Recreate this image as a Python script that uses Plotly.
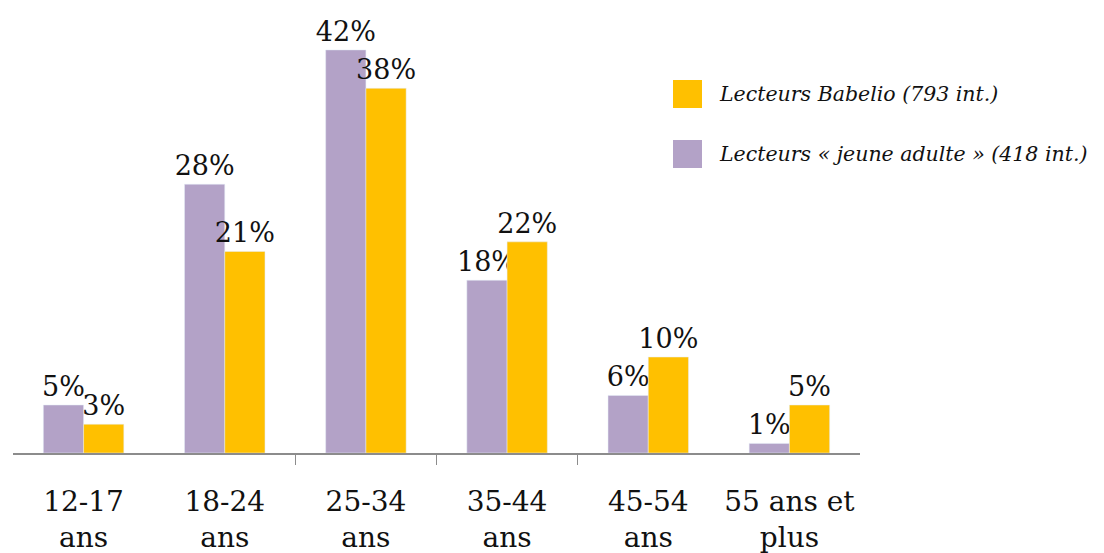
import plotly.graph_objects as go

categories = ["12-17<br>ans", "18-24<br>ans", "25-34<br>ans", "35-44<br>ans", "45-54<br>ans", "55 ans et<br>plus"]
jeune_adulte = [5, 28, 42, 18, 6, 1]
babelio = [3, 21, 38, 22, 10, 5]
name_ja = "Lecteurs « jeune adulte » (418 int.)"
name_bab = "Lecteurs Babelio (793 int.)"

PURPLE = "#B3A2C7"
YELLOW = "#FFC000"
FONT = "DejaVu Serif"

W, H = 1104, 553
L, R, T, B = 13, 244, 0, 100
pw, ph = W - L - R, H - T - B

xs = list(range(len(categories)))

fig = go.Figure()
fig.add_trace(go.Bar(
    x=xs, y=jeune_adulte, name=name_ja, marker_color=PURPLE,
    text=[f"{v}%" for v in jeune_adulte], textposition="outside",
    textfont=dict(family=FONT, size=27, color="#111"), cliponaxis=False,
    constraintext="none", showlegend=False,
))
fig.add_trace(go.Bar(
    x=xs, y=babelio, name=name_bab, marker_color=YELLOW,
    text=[f"{v}%" for v in babelio], textposition="outside",
    textfont=dict(family=FONT, size=27, color="#111"), cliponaxis=False,
    constraintext="none", showlegend=False,
))

def px2x(p):
    return (p - L) / pw

def py2y(p):
    return (T + ph - p) / ph

shapes = []
annotations = []
for i, (name, col) in enumerate([(name_bab, YELLOW), (name_ja, PURPLE)]):
    top = 80 + i * 60
    shapes.append(dict(type="rect", xref="paper", yref="paper",
                       x0=px2x(673), x1=px2x(702), y0=py2y(top + 28), y1=py2y(top),
                       fillcolor=col, line=dict(width=0)))
    annotations.append(dict(xref="paper", yref="paper", x=px2x(717), y=py2y(top + 14),
                            xanchor="left", yanchor="middle", showarrow=False,
                            text=f"<i>{name}</i>",
                            font=dict(family=FONT, size=20.5, color="#111")))

fig.update_layout(
    width=W, height=H,
    margin=dict(l=L, r=R, t=T, b=B),
    paper_bgcolor="white", plot_bgcolor="white",
    barmode="group", bargap=0.43, bargroupgap=0,
    shapes=shapes, annotations=annotations,
    showlegend=False,
    xaxis=dict(
        tickmode="array", tickvals=xs, ticktext=categories,
        range=[-0.5, len(categories) - 0.5],
        showline=True, linecolor="#8c8c8c", linewidth=2,
        ticks="", showgrid=False, zeroline=False,
        ticklabelstandoff=22,
        tickfont=dict(family=FONT, size=28, color="#111"),
        minor=dict(tickmode="array", tickvals=[1.5, 2.5, 3.5], ticks="outside",
                   ticklen=10, tickcolor="#8c8c8c", tickwidth=1, showgrid=False),
    ),
    yaxis=dict(range=[0, 47.2], visible=False, showgrid=False, zeroline=False),
)

fig.write_html("out.html")
